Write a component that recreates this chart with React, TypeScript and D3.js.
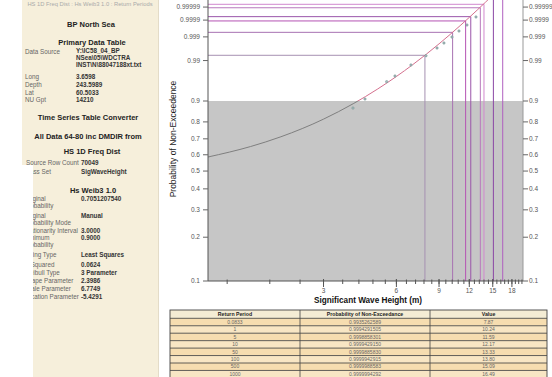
import React from 'react';
import * as d3 from 'd3';

const W = 552;
const H = 377;

// Axis ticks
const yTicks = [0.1, 0.2, 0.3, 0.4, 0.5, 0.6, 0.7, 0.8, 0.9, 0.99, 0.999, 0.9999, 0.99999];
const yTickLabels = ['0.1', '0.2', '0.3', '0.4', '0.5', '0.6', '0.7', '0.8', '0.9', '0.99', '0.999', '0.9999', '0.99999'];
const xMajor = [3, 6, 9, 12, 15, 18];
const xMinorStep = 0.6;

// Fitted Weibull curve
const curveX = [1, 1.5, 2, 3, 4, 5, 6, 7, 8, 9, 10, 11, 12, 13, 14, 15];
const curveP = [0.586, 0.652, 0.7127, 0.815, 0.8903, 0.9401, 0.96996, 0.98624, 0.99426, 0.997827, 0.999255, 0.999769, 0.9999353, 0.9999837, 0.99999634, 0.99999926];

// Observed points
const obsX = [3.97, 4.45, 5.47, 5.92, 6.89, 7.95, 8.83, 9.43, 10.18, 10.88, 11.74, 12.79];
const obsP = [0.87, 0.9076, 0.9595, 0.9708, 0.986, 0.99329, 0.99668, 0.99801, 0.99898, 0.99952, 0.99979, 0.99994];

// Return period table
const rpLabels = ['0.0833', '1', '5', '10', '50', '100', '500', '1000'];
const rpProb = [0.9935262589, 0.9994291505, 0.9998858301, 0.999942915, 0.999988583, 0.9999942915, 0.9999988583, 0.9999994292];
const rpValue = [7.87, 10.24, 11.59, 12.17, 13.33, 13.8, 15.09, 16.49];
const rpColors = ['#a690b2', '#a872b2', '#b553b3', '#9a55aa', '#b878bc', '#d189cf', '#8a46a4', '#b060c0'];

const threshold = 0.9;

const FONT = 'Liberation Sans, Arial, sans-serif';

const upperRows = [
  { label: 'Long', value: '3.6598' },
  { label: 'Depth', value: '243.5989' },
  { label: 'Lat', value: '60.5033' },
  { label: 'NU Gpt', value: '14210' },
];
const dataSource = ['Y:\\IC58_04_BP', 'NSea\\05\\WDCTRA', 'INST\\N\\88047188xt.txt'];

const lowerRows = [
  { label: ['Original', 'Probability'], value: '0.7051207540', y: 199 },
  { label: ['Original', 'Probability Mode'], value: 'Manual', y: 216 },
  { label: ['Stationarity Interval'], value: '3.0000', y: 230.5 },
  { label: ['Minimum', 'Probability'], value: '0.9000', y: 238 },
  { label: ['Fitting Type'], value: 'Least Squares', y: 255 },
  { label: ['R-Squared'], value: '0.0624', y: 264.5 },
  { label: ['Weibull Type'], value: '3 Parameter', y: 272.5 },
  { label: ['Shape Parameter'], value: '2.3986', y: 280.5 },
  { label: ['Scale Parameter'], value: '6.7749', y: 288.5 },
  { label: ['Location Parameter'], value: '-5.4291', y: 296.5 },
];

const tr = (p: number) => Math.log(-Math.log(1 - p));

export default function App() {
  const left = 208, right = 523, bottom = 281;
  const x = d3.scaleLog().domain([1, 20]).range([left, right]);
  const yl = d3.scaleLinear().domain([tr(0.1), tr(0.9)]).range([bottom, 101]);
  const y = (p: number) => yl(tr(p));

  const curvePts: [number, number][] = curveX.map((v, i) => [x(v), y(curveP[i])]);
  const line = d3.line().curve(d3.curveMonotoneX)(curvePts) || '';

  const minor = d3.range(xMinorStep * 2, 20, xMinorStep).filter(v => v > 1.0001 && v < 20);

  const tableX = [170, 300, 430, 547];
  const tableTop = 310;
  const headH = 8.3;
  const rowH = 7.45;

  return (
    <svg width={W} height={H} style={{ position: 'absolute', left: 0, top: 0, background: '#fff' }} fontFamily={FONT}>
      <defs>
        <clipPath id="plot"><rect x={left} y={0} width={right - left} height={bottom} /></clipPath>
        <clipPath id="upper"><rect x={left} y={0} width={right - left} height={y(threshold)} /></clipPath>
        <clipPath id="lowerp"><rect x={left} y={y(threshold)} width={right - left} height={bottom - y(threshold)} /></clipPath>
        <clipPath id="lowpanel"><rect x={33} y={165} width={125} height={212} /></clipPath>
      </defs>
      <rect width={W} height={H} fill="#fff" />

      {/* Left info panel */}
      <rect x={22} y={0} width={136} height={165} fill="#f6efdb" />
      <rect x={33} y={165} width={125} height={212} fill="#f6efdb" />
      <line x1={158.5} y1={0} x2={158.5} y2={377} stroke="#e4dcc8" />
      <text x={90} y={6} textAnchor="middle" fontSize={5.8} fill="#aaa">HS 1D Freq Dist : Hs Weib3 1.0 : Return Periods</text>
      <text x={91} y={24} dy="0.35em" textAnchor="middle" fontSize={7.5} fontWeight="bold" fill="#222">BP North Sea</text>
      <text x={92} y={42.5} dy="0.35em" textAnchor="middle" fontSize={7.5} fontWeight="bold" fill="#222">Primary Data Table</text>
      <text x={25} y={52} dy="0.35em" fontSize={6.3} fill="#666">Data Source</text>
      {dataSource.map((s, i) => (
        <text key={s} x={76} y={51 + i * 6.8} dy="0.35em" fontSize={6.3} fontWeight="bold" fill="#333">{s}</text>
      ))}
      {upperRows.map((r, i) => (
        <g key={r.label}>
          <text x={25} y={76.7 + i * 7.8} dy="0.35em" fontSize={6.3} fill="#666">{r.label}</text>
          <text x={76} y={76.7 + i * 7.8} dy="0.35em" fontSize={6.3} fontWeight="bold" fill="#333">{r.value}</text>
        </g>
      ))}
      <text x={88} y={117.3} dy="0.35em" textAnchor="middle" fontSize={7.5} fontWeight="bold" fill="#222">Time Series Table Converter</text>
      <text x={88} y={136.7} dy="0.35em" textAnchor="middle" fontSize={7.5} fontWeight="bold" fill="#222">All Data 64-80 inc DMDIR from</text>
      <text x={92} y={151.7} dy="0.35em" textAnchor="middle" fontSize={7.5} fontWeight="bold" fill="#222">HS 1D Freq Dist</text>
      <text x={26} y={162.7} dy="0.35em" fontSize={6.3} fill="#666">Source Row Count</text>
      <text x={81} y={162.7} dy="0.35em" fontSize={6.3} fontWeight="bold" fill="#333">70049</text>
      <g clipPath="url(#lowpanel)">
        <text x={24} y={171.5} dy="0.35em" fontSize={6.3} fill="#666">Class Set</text>
      </g>
      <text x={81} y={171.5} dy="0.35em" fontSize={6.3} fontWeight="bold" fill="#333">SigWaveHeight</text>
      <text x={93} y={190} dy="0.35em" textAnchor="middle" fontSize={7.5} fontWeight="bold" fill="#222">Hs Weib3 1.0</text>
      <g clipPath="url(#lowpanel)">
        {lowerRows.map(r => r.label.map((l, j) => (
          <text key={l + r.y} x={24} y={r.y + j * 6.5} dy="0.35em" fontSize={6.3} fill="#666">{l}</text>
        )))}
      </g>
      {lowerRows.map(r => (
        <text key={r.value + r.y} x={81} y={r.y} dy="0.35em" fontSize={6.3} fontWeight="bold" fill="#333">{r.value}</text>
      ))}

      {/* Plot */}
      <rect x={left} y={y(threshold)} width={right - left} height={bottom - y(threshold)} fill="#c6c6c6" />
      <g clipPath="url(#plot)">
        {rpValue.map((v, i) => {
          const cy = y(rpProb[i]);
          const cx = x(v);
          return (
            <g key={i}>
              <line x1={left} x2={cx} y1={cy} y2={cy} stroke={rpColors[i]} strokeWidth={1} />
              <line x1={cx} x2={cx} y1={cy} y2={bottom} stroke={rpColors[i]} strokeWidth={1} />
            </g>
          );
        })}
        <path d={line} fill="none" stroke="#d4708e" strokeWidth={1} clipPath="url(#upper)" />
        <path d={line} fill="none" stroke="#7f7f7f" strokeWidth={1} clipPath="url(#lowerp)" />
        {obsX.map((v, i) => (
          <circle key={i} cx={x(v)} cy={y(obsP[i])} r={1.2} fill="#a9bdbd" stroke="#6f8f8f" strokeWidth={0.5} />
        ))}
      </g>

      {/* Axes */}
      <line x1={left} x2={left} y1={0} y2={bottom} stroke="#555" />
      <line x1={right} x2={right} y1={0} y2={bottom} stroke="#999" />
      <line x1={left} x2={right} y1={bottom} y2={bottom} stroke="#555" />
      {yTicks.map((p, i) => (
        <g key={p}>
          <line x1={left - 5} x2={left} y1={y(p)} y2={y(p)} stroke="#666" />
          <text x={left - 8} y={y(p)} dy="0.35em" textAnchor="end" fontSize={6.5} fill="#555">{yTickLabels[i]}</text>
          <line x1={right} x2={right + 5} y1={y(p)} y2={y(p)} stroke="#666" />
          <text x={right + 6} y={y(p)} dy="0.35em" fontSize={6.5} fill="#555">{yTickLabels[i]}</text>
        </g>
      ))}
      {minor.map(v => (
        <line key={v} x1={x(v)} x2={x(v)} y1={bottom - 1.5} y2={bottom + 3} stroke="#555" />
      ))}
      {xMajor.map(v => (
        <g key={v}>
          <line x1={x(v)} x2={x(v)} y1={bottom - 2} y2={bottom + 6} stroke="#555" />
          <text x={x(v)} y={bottom + 10} dy="0.35em" textAnchor="middle" fontSize={6.5} fill="#555">{v}</text>
        </g>
      ))}
      <text x={368} y={300} dy="0.35em" textAnchor="middle" fontSize={8.2} fontWeight="bold" fill="#111">Significant Wave Height (m)</text>
      <text transform="translate(173,139) rotate(-90)" dy="0.35em" textAnchor="middle" fontSize={8.5} fill="#222">Probability of Non-Exceedence</text>

      {/* Table */}
      <rect x={tableX[0]} y={tableTop} width={tableX[3] - tableX[0]} height={headH} fill="#f4ecd4" />
      {rpLabels.map((l, i) => {
        const ry = tableTop + headH + i * rowH;
        return (
          <g key={l}>
            <rect x={tableX[0]} y={ry} width={tableX[3] - tableX[0]} height={rowH} fill={i % 2 === 0 ? '#f6ddb0' : '#f8e6c4'} />
            <line x1={tableX[0]} x2={tableX[3]} y1={ry} y2={ry} stroke="#3a3a3a" strokeWidth={0.8} />
            <text x={(tableX[0] + tableX[1]) / 2} y={ry + rowH / 2} dy="0.35em" textAnchor="middle" fontSize={5} fill="#666">{l}</text>
            <text x={(tableX[1] + tableX[2]) / 2} y={ry + rowH / 2} dy="0.35em" textAnchor="middle" fontSize={5} fill="#666">{rpProb[i].toFixed(10)}</text>
            <text x={(tableX[2] + tableX[3]) / 2} y={ry + rowH / 2} dy="0.35em" textAnchor="middle" fontSize={5} fill="#666">{rpValue[i].toFixed(2)}</text>
          </g>
        );
      })}
      <rect x={tableX[0]} y={tableTop} width={tableX[3] - tableX[0]} height={H} fill="none" stroke="#444" strokeWidth={0.9} />
      {tableX.slice(1, 3).map(tx => (
        <line key={tx} x1={tx} x2={tx} y1={tableTop} y2={H} stroke="#444" strokeWidth={0.8} />
      ))}
      <text x={(tableX[0] + tableX[1]) / 2} y={tableTop + headH / 2} dy="0.35em" textAnchor="middle" fontSize={5.2} fontWeight="bold" fill="#222">Return Period</text>
      <text x={(tableX[1] + tableX[2]) / 2} y={tableTop + headH / 2} dy="0.35em" textAnchor="middle" fontSize={5.2} fontWeight="bold" fill="#222">Probability of Non-Exceedance</text>
      <text x={(tableX[2] + tableX[3]) / 2} y={tableTop + headH / 2} dy="0.35em" textAnchor="middle" fontSize={5.2} fontWeight="bold" fill="#222">Value</text>
    </svg>
  );
}
